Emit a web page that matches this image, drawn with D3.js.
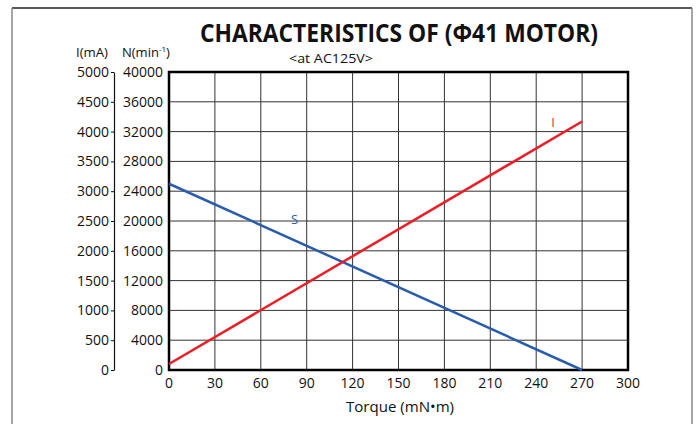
<!DOCTYPE html>
<html>
  <head>
    <meta charset="UTF-8">
    <title>Characteristics of motor</title>
    <script src="https://d3js.org/d3.v7.min.js"></script>
    <style>
      body { margin: 0; background: #fff; }
      text { font-family: "Open Sans", "DejaVu Sans", sans-serif; fill: #111; }
    </style>
  </head>
  <body>
    <svg width="697" height="424"></svg>
    <script>
      // chart data
      var torque = [0, 270];
      var current = [100, 4170];
      var speed = [25000, 0];
      var xTicks = [0, 30, 60, 90, 120, 150, 180, 210, 240, 270, 300];
      var iTicks = [0, 500, 1000, 1500, 2000, 2500, 3000, 3500, 4000, 4500, 5000];
      var nTicks = [0, 4000, 8000, 12000, 16000, 20000, 24000, 28000, 32000, 36000, 40000];

      var svg = d3.select("svg");
      var plotL = 169, plotR = 628, plotT = 72, plotB = 370;

      var x = d3.scaleLinear().domain([0, 300]).range([plotL, plotR]);
      var yI = d3.scaleLinear().domain([0, 5000]).range([plotB, plotT]);
      var yN = d3.scaleLinear().domain([0, 40000]).range([plotB, plotT]);

      // outer frame
      svg.append("line").attr("x1", 12).attr("x2", 692).attr("y1", 8).attr("y2", 8)
          .attr("stroke", "#222").attr("stroke-width", 1.5);
      svg.append("line").attr("x1", 12).attr("x2", 12).attr("y1", 8).attr("y2", 424)
          .attr("stroke", "#888").attr("stroke-width", 1.5);
      svg.append("line").attr("x1", 692).attr("x2", 692).attr("y1", 8).attr("y2", 424)
          .attr("stroke", "#888").attr("stroke-width", 1.5);

      // title
      svg.append("text").attr("x", 399).attr("y", 42).attr("text-anchor", "middle")
          .attr("font-size", 25).attr("font-weight", "bold")
          .attr("textLength", 398).attr("lengthAdjust", "spacingAndGlyphs")
          .text("CHARACTERISTICS OF (\u03A641 MOTOR)");
      svg.append("text").attr("x", 331).attr("y", 63).attr("text-anchor", "middle")
          .attr("font-size", 13).attr("textLength", 84).attr("lengthAdjust", "spacingAndGlyphs")
          .text("<at AC125V>");

      // grid
      var grid = svg.append("g");
      grid.selectAll(".gx").data(xTicks.slice(1, -1)).enter().append("line")
          .attr("x1", x).attr("x2", x).attr("y1", plotT).attr("y2", plotB)
          .attr("stroke", "#333").attr("stroke-width", 1);
      grid.selectAll(".gy").data(iTicks.slice(1, -1)).enter().append("line")
          .attr("x1", plotL).attr("x2", plotR).attr("y1", yI).attr("y2", yI)
          .attr("stroke", "#333").attr("stroke-width", 1);
      svg.append("rect").attr("x", plotL).attr("y", plotT)
          .attr("width", plotR - plotL).attr("height", plotB - plotT)
          .attr("fill", "none").attr("stroke", "#000").attr("stroke-width", 2.5);

      // x axis labels
      svg.selectAll(".xt").data(xTicks).enter().append("text")
          .attr("x", x).attr("y", 388).attr("text-anchor", "middle")
          .attr("font-size", 14).attr("textLength", function(d) { return String(d).length * 8; })
          .attr("lengthAdjust", "spacingAndGlyphs")
          .text(function(d) { return d; });
      svg.append("text").attr("x", 400).attr("y", 412).attr("text-anchor", "middle")
          .attr("font-size", 14.5).attr("textLength", 108).attr("lengthAdjust", "spacingAndGlyphs")
          .text("Torque (mN\u2022m)");

      // current axis (left)
      var iAxis = d3.axisLeft(yI).tickValues(iTicks).tickFormat(d3.format("d"))
          .tickSize(3).tickPadding(2).tickSizeOuter(0);
      var ga = svg.append("g").attr("transform", "translate(114,0)").call(iAxis);
      ga.select(".domain").attr("stroke", "#111").attr("stroke-width", 1.2);
      ga.selectAll(".tick line").attr("stroke", "#111");
      ga.selectAll(".tick text").attr("font-size", 14).attr("font-family", "Open Sans")
          .attr("fill", "#111").attr("x", -5)
          .attr("textLength", function(d) { return String(d).length * 8; })
          .attr("lengthAdjust", "spacingAndGlyphs");

      // speed labels
      svg.selectAll(".nt").data(nTicks).enter().append("text")
          .attr("x", 163).attr("y", function(d) { return yN(d) + 5; })
          .attr("text-anchor", "end").attr("font-size", 14)
          .attr("textLength", function(d) { return String(d).length * 8; })
          .attr("lengthAdjust", "spacingAndGlyphs")
          .text(function(d) { return d; });

      // axis headers
      svg.append("text").attr("x", 76).attr("y", 57).attr("font-size", 13)
          .attr("textLength", 32).attr("lengthAdjust", "spacingAndGlyphs").text("I(mA)");
      var nh = svg.append("text").attr("x", 122).attr("y", 57).attr("font-size", 13);
      nh.append("tspan").text("N(min");
      nh.append("tspan").attr("font-size", 8).attr("dy", -5).text("-1");
      nh.append("tspan").attr("dy", 5).text(")");

      // lines
      var pts = function(ys, scale) {
        return torque.map(function(t, i) { return [x(t), scale(ys[i])]; });
      };
      svg.append("path").attr("d", d3.line()(pts(speed, yN)))
          .attr("fill", "none").attr("stroke", "#2a5cad").attr("stroke-width", 2.5);
      svg.append("path").attr("d", d3.line()(pts(current, yI)))
          .attr("fill", "none").attr("stroke", "#ee1c25").attr("stroke-width", 2.5);

      svg.append("text").attr("x", x(251)).attr("y", yI(4080)).attr("text-anchor", "middle")
          .attr("font-size", 13).style("fill", "#ee1c25").text("I");
      svg.append("text").attr("x", x(82)).attr("y", yN(19600)).attr("text-anchor", "middle")
          .attr("font-size", 13).style("fill", "#2a5cad").text("S");
    </script>
  </body>
</html>
